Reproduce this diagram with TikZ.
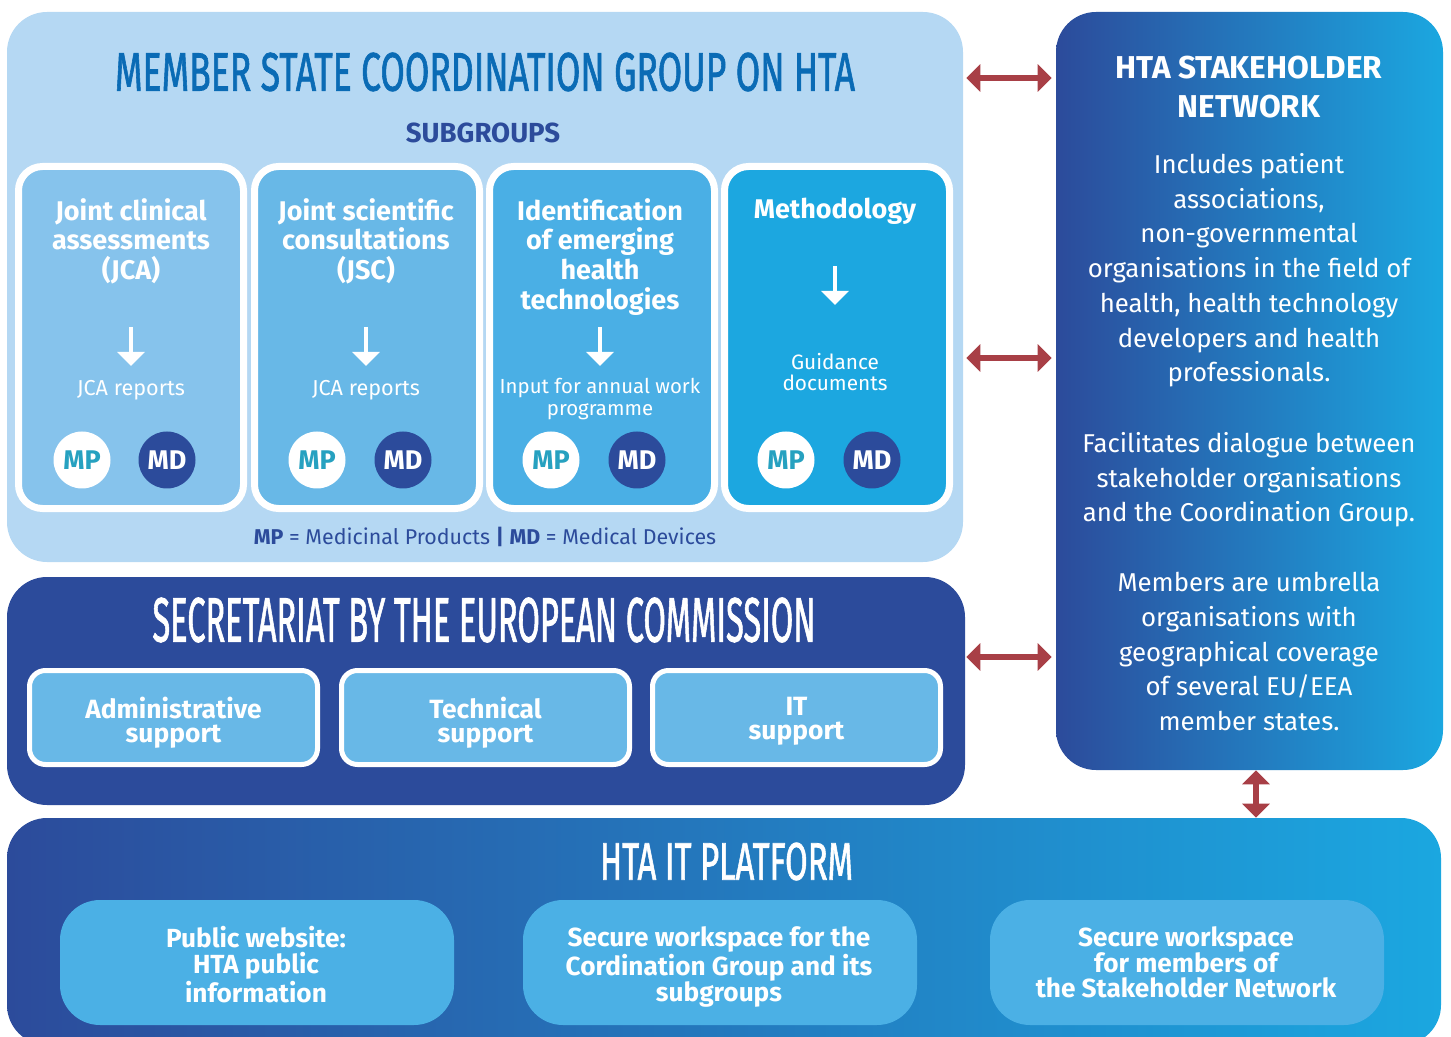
\documentclass[tikz,border=0pt]{standalone}
\usepackage{fontspec}
\setmainfont{Fira Sans}
\newfontfamily\titlefont[FakeBold=1.6]{Fira Sans}
\usepackage{graphicx}
\usetikzlibrary{arrows.meta}
\definecolor{bgblue}{HTML}{B5D8F3}
\definecolor{titleblue}{HTML}{0A6BB5}
\definecolor{navy}{HTML}{2C4B9B}
\definecolor{sgA}{HTML}{86C3EC}
\definecolor{sgB}{HTML}{68B8E7}
\definecolor{sgC}{HTML}{4AAFE5}
\definecolor{sgD}{HTML}{1CA7E0}
\definecolor{cyanr}{HTML}{1BA7E0}
\definecolor{platsub}{HTML}{4BB0E5}
\definecolor{redarrow}{HTML}{A83F46}
\definecolor{mpteal}{HTML}{26A1C0}
\begin{document}
\begin{tikzpicture}[x=0.5pt,y=-0.5pt,
  panel/.style={rounded corners=20pt, inner sep=0pt, draw=none},
  sgbox/.style={draw=white, line width=3.5pt, rounded corners=12pt, minimum width=112.5pt, minimum height=171pt, inner sep=0pt},
  sgtitle/.style={text=white, font=\bfseries\fontsize{13.5}{14.85}\selectfont, align=center, anchor=north, inner sep=0pt},
  outtext/.style={text=white, font=\fontsize{10.8}{11}\selectfont, align=center, inner sep=0pt},
  mpc/.style={circle, fill=white, minimum size=28.5pt, inner sep=0pt, text=mpteal, font=\bfseries\fontsize{13.5}{13.5}\selectfont},
  mdc/.style={mpc, fill=navy, text=white},
  warrow/.style={draw=white, line width=2pt, -{Triangle[width=13.5pt,length=7pt]}},
  rarrow/.style={draw=redarrow, fill=redarrow, line width=3pt, {Triangle[width=13.5pt,length=7pt]}-{Triangle[width=13.5pt,length=7pt]}},
  supbox/.style={draw=white, line width=2.5pt, rounded corners=8pt, fill=sgB, minimum width=144pt, minimum height=47pt, inner sep=0pt},
  suptext/.style={text=white, font=\bfseries\fontsize{13.2}{12}\selectfont, align=center, anchor=north, inner sep=0pt},
  platbox/.style={fill=platsub, rounded corners=20pt, minimum width=197pt, minimum height=62.5pt, inner sep=0pt},
  plattext/.style={text=white, font=\bfseries\fontsize{13.1}{12.9}\selectfont, align=center, anchor=north, inner sep=0pt},
  shtext/.style={text=white, font=\fontsize{12.9}{17.35}\selectfont, align=center, anchor=north, inner sep=0pt},
]
\useasboundingbox (0,0) rectangle (1451,1037);
\clip (0,0) rectangle (1451,1037);

% main panels
\node[panel, fill=bgblue, minimum width=478pt, minimum height=275pt] (mscg) at (485,287) {};
\node[panel, fill=navy, minimum width=479pt, minimum height=114pt] (sec) at (486,691) {};
\node[panel, left color=navy, right color=cyanr, minimum width=193.5pt, minimum height=379pt] (shn) at (1249.5,391) {};
\node[panel, left color=navy, right color=cyanr, minimum width=717pt, minimum height=113.5pt] (plat) at (724,931.5) {};

% MSCG
\node[inner sep=0pt, text=titleblue] (mscgt) at (485,72) {\resizebox{370pt}{19pt}{\titlefont MEMBER STATE COORDINATION GROUP ON HTA}};
\node[inner sep=0pt, text=navy, font=\bfseries\fontsize{13.8}{14}\selectfont] (subg) at (483,133) {SUBGROUPS};

\node[sgbox, fill=sgA] (sg1) at (131,337.5) {};
\node[sgbox, fill=sgB] (sg2) at (367,337.5) {};
\node[sgbox, fill=sgC] (sg3) at (602,337.5) {};
\node[sgbox, fill=sgD] (sg4) at (837,337.5) {};

\node[sgtitle] (t1) at (131,198) {Joint clinical\\assessments\\(JCA)};
\node[sgtitle] (t2) at (366,198) {Joint scientific\\consultations\\(JSC)};
\node[sgtitle] (t3) at (600,198) {Identification\\of emerging\\health\\technologies};
\node[sgtitle] (t4) at (835,198) {Methodology};

\coordinate (a1s) at (131,327); \coordinate (a1e) at (131,366);
\coordinate (a2s) at (366,327); \coordinate (a2e) at (366,366);
\coordinate (a3s) at (600,327); \coordinate (a3e) at (600,366);
\coordinate (a4s) at (835,266); \coordinate (a4e) at (835,305);
\draw[warrow] (a1s) -- (a1e);
\draw[warrow] (a2s) -- (a2e);
\draw[warrow] (a3s) -- (a3e);
\draw[warrow] (a4s) -- (a4e);

\node[outtext, anchor=base] (o1) at (131,396) {JCA reports};
\node[outtext, anchor=base] (o2) at (366,396) {JCA reports};
\node[outtext, anchor=north, font=\fontsize{10.2}{11}\selectfont] (o3) at (600,378) {Input for annual work\\programme};
\node[outtext, anchor=north, font=\fontsize{10.4}{10.5}\selectfont] (o4) at (835,353) {Guidance\\documents};

\node[mpc] (mp1) at (82,460) {MP};  \node[mdc] (md1) at (167,460) {MD};
\node[mpc] (mp2) at (317,460) {MP}; \node[mdc] (md2) at (403,460) {MD};
\node[mpc] (mp3) at (551,460) {MP}; \node[mdc] (md3) at (637,460) {MD};
\node[mpc] (mp4) at (786,460) {MP}; \node[mdc] (md4) at (872,460) {MD};

\node[inner sep=0pt, anchor=base, text=navy, font=\fontsize{10.7}{11}\selectfont] (legend) at (485,545) {\textbf{MP} = Medicinal Products \textbf{|} \textbf{MD} = Medical Devices};

% Secretariat
\node[inner sep=0pt, text=white] (sect) at (484,620) {\resizebox{331.5pt}{22pt}{\titlefont SECRETARIAT BY THE EUROPEAN COMMISSION}};
\node[supbox] (sup1) at (173.5,717.5) {};
\node[supbox] (sup2) at (485.5,717.5) {};
\node[supbox] (sup3) at (796.5,717.5) {};
\node[suptext] (sup1t) at (173.5,696.5) {Administrative\\support};
\node[suptext] (sup2t) at (485.5,696.5) {Technical\\support};
\node[suptext] (sup3t) at (796.5,696.5) {IT\\support};

% Stakeholder network
\node[shtext, font=\bfseries\fontsize{15.8}{19.5}\selectfont] (shnt) at (1249,56) {HTA STAKEHOLDER\\NETWORK};
\node[shtext] (shp1) at (1249,153) {Includes patient\\associations,\\non-governmental\\organisations in the field of\\health, health technology\\developers and health\\professionals.};
\node[shtext] (shp2) at (1249,432) {Facilitates dialogue between\\stakeholder organisations\\and the Coordination Group.};
\node[shtext] (shp3) at (1249,572) {Members are umbrella\\organisations with\\geographical coverage\\of several EU/EEA\\member states.};

% Platform
\node[inner sep=0pt, text=white] (platt) at (726.5,861.5) {\resizebox{126.5pt}{18.5pt}{\titlefont HTA IT PLATFORM}};
\node[platbox] (pb1) at (257,962.5) {};
\node[platbox] (pb2) at (720,962.5) {};
\node[platbox] (pb3) at (1187,962.5) {};
\node[plattext] (pb1t) at (256,926) {Public website:\\HTA public\\information};
\node[plattext] (pb2t) at (719,926) {Secure workspace for the\\Cordination Group and its\\subgroups};
\node[plattext] (pb3t) at (1186,926) {Secure workspace\\for members of\\the Stakeholder Network};

% red connectors
\coordinate (r1) at (0,78);
\coordinate (r2) at (0,358);
\coordinate (r3) at (0,657);
\coordinate (rv) at (1256,0);
\draw[rarrow, shorten <=1.5pt, shorten >=2pt] (mscg.east |- r1) -- (shn.west |- r1);
\draw[rarrow, shorten <=1.5pt, shorten >=2pt] (mscg.east |- r2) -- (shn.west |- r2);
\draw[rarrow, shorten <=0.5pt, shorten >=2pt] (sec.east |- r3) -- (shn.west |- r3);
\draw[rarrow] (rv |- shn.south) -- (rv |- plat.north);
\end{tikzpicture}
\end{document}
